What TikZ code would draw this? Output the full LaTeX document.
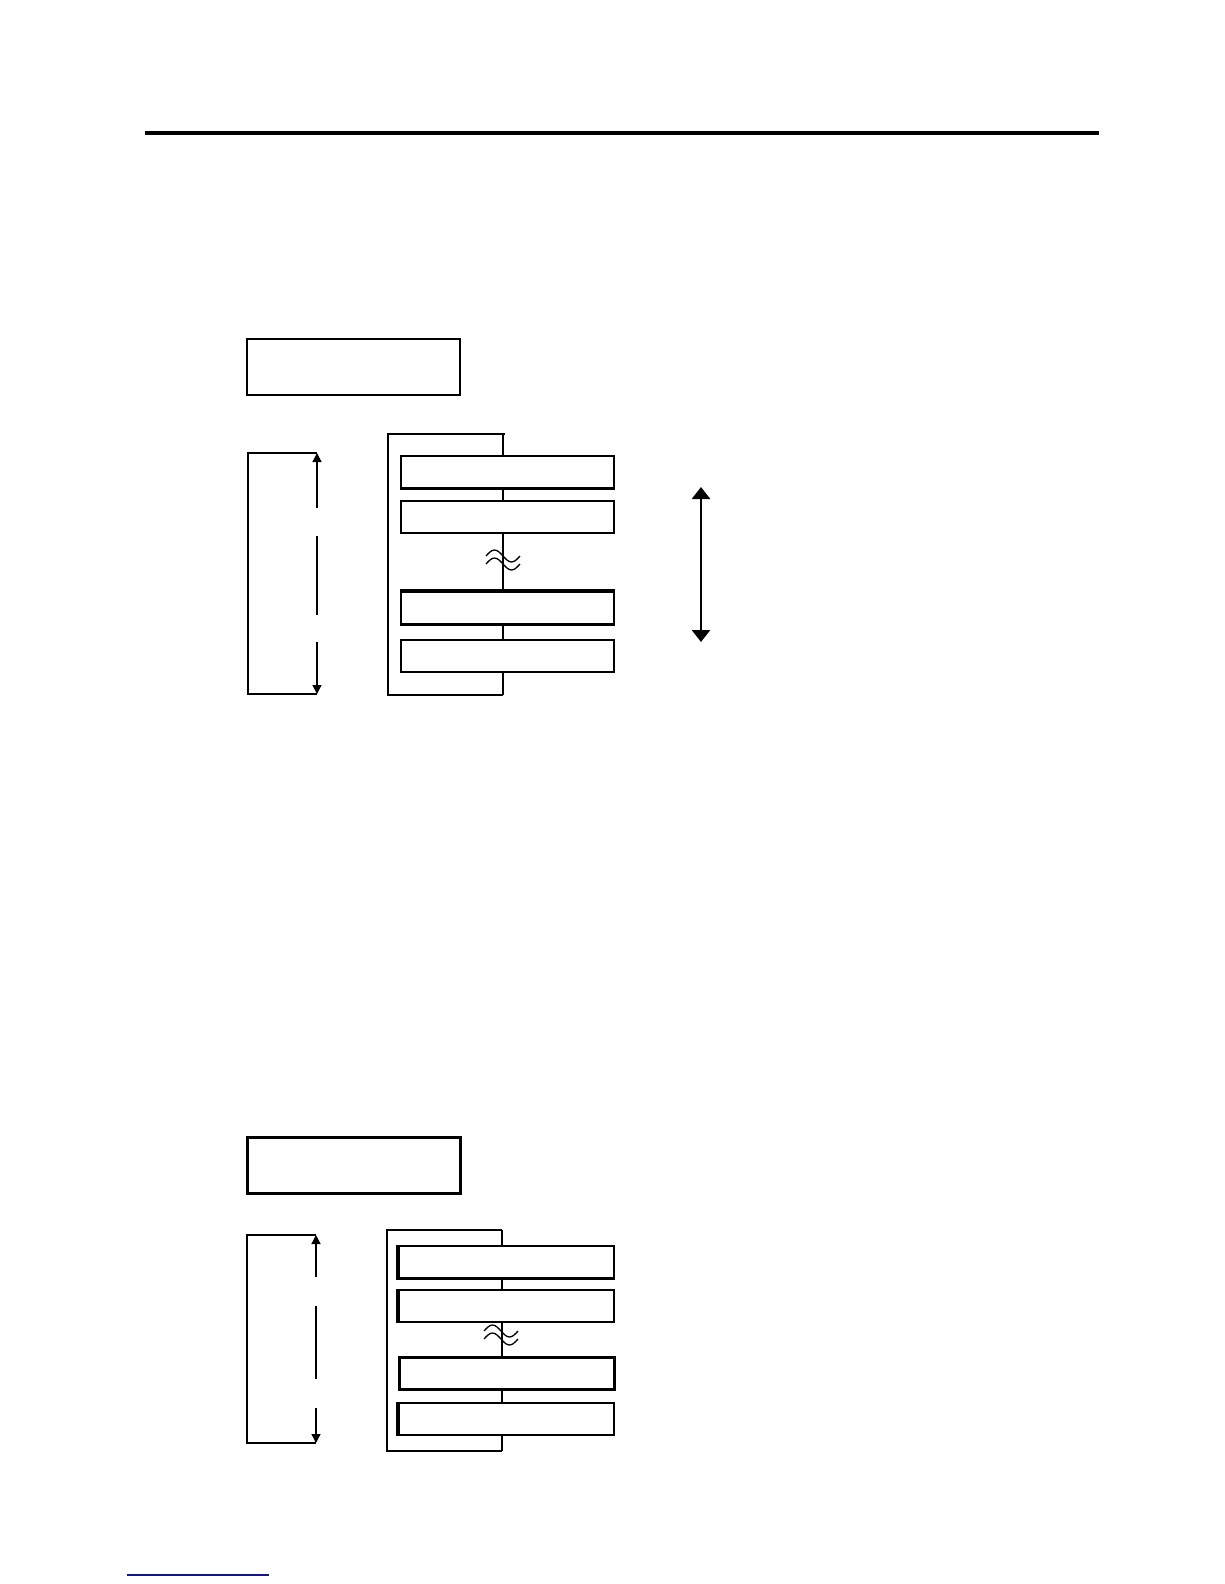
\documentclass[tikz,border=0pt]{standalone}
\usetikzlibrary{arrows.meta}
\begin{document}
\begin{tikzpicture}[x=1pt,y=-1pt,
  thin line/.style={line width=1.6pt},
  heavy edge/.style={line width=3.2pt},
  plainbox/.style={draw,line width=1.6pt,minimum width=213pt,minimum height=32pt,anchor=north west,inner sep=0pt},
  titlebox/.style={draw,line width=1.6pt,minimum width=213pt,minimum height=56pt,anchor=north west,inner sep=0pt},
  dimarrow/.style={line width=1.3pt},
  tipA/.style={-{Triangle[width=9pt,length=9pt]}},
  bigarrow/.style={line width=2.6pt,{Triangle[width=18pt,length=12pt]}-{Triangle[width=18pt,length=12pt]}},
  approxwave/.style={line width=1.3pt}
]
\useasboundingbox (0,0) rectangle (1224,1584);
\fill[white] (0,0) rectangle (1224,1584);

% top rule
\coordinate (ruleL) at (145,133);
\coordinate (ruleR) at (1099,133);
\draw[line width=4.5pt] (ruleL) -- (ruleR);

% ================= Section 1 =================
\node[titlebox] (tA) at (246,338) {};

% left bracket with dimension arrow
\coordinate (lbT) at (317,453);
\coordinate (lbB) at (317,694);
\coordinate (lbTL) at (248,453);
\coordinate (lbBL) at (248,694);
\draw[thin line] (lbT) -- (lbTL) -- (lbBL) -- (lbB);
\coordinate (d1a) at (317,508);
\coordinate (d1b) at (317,536);
\coordinate (d1c) at (317,615);
\coordinate (d1d) at (317,642);
\draw[dimarrow,tipA] (d1a) -- (lbT);
\draw[dimarrow] (d1b) -- (d1c);
\draw[dimarrow,tipA] (d1d) -- (lbB);

% frame
\coordinate (fTR) at (503,434);
\coordinate (fTL) at (388,434);
\coordinate (fBL) at (388,695);
\coordinate (fBR) at (503,695);
\draw[thin line] (505,434) -- (fTL) -- (fBL) -- (fBR);

\node[plainbox] (a1) at (400,455) {};
\node[plainbox] (a2) at (400,500) {};
\node[plainbox] (a3) at (400,591) {};
\node[plainbox] (a4) at (400,639) {};
\draw[heavy edge] (a1.south west) -- (a1.south east);
\draw[heavy edge] (a3.north west) -- (a3.north east);
\draw[heavy edge] (a3.south west) -- (a3.south east);

\draw[thin line] (fTR) -- (fTR |- a1.north);
\draw[thin line] (fTR |- a1.south) -- (fTR |- a2.north);
\draw[thin line] (fTR |- a2.south) -- (fTR |- a3.north);
\draw[thin line] (fTR |- a3.south) -- (fTR |- a4.north);
\draw[thin line] (fTR |- a4.south) -- (fBR);

% approx symbol 1
\coordinate (ap1) at (503,556);
\draw[approxwave] ([shift={(-17,0)}]ap1) sin ([shift={(-8.5,-6)}]ap1) cos ([shift={(0,0)}]ap1) sin ([shift={(8.5,6)}]ap1) cos ([shift={(17,0)}]ap1);
\draw[approxwave] ([shift={(-17,8)}]ap1) sin ([shift={(-8.5,2)}]ap1) cos ([shift={(0,8)}]ap1) sin ([shift={(8.5,14)}]ap1) cos ([shift={(17,8)}]ap1);

% right double arrow
\coordinate (raT) at (701,487);
\coordinate (raB) at (701,642);
\draw[bigarrow] (raT) -- (raB);

% ================= Section 2 =================
\node[titlebox,line width=2.6pt] (tB) at (246,1136) {};

\coordinate (lb2T) at (316,1235);
\coordinate (lb2B) at (316,1443);
\coordinate (lb2TL) at (247,1235);
\coordinate (lb2BL) at (247,1443);
\draw[line width=2.2pt] (lb2T) -- (lb2TL) -- (lb2BL) -- (lb2B);
\coordinate (d2a) at (316,1277);
\coordinate (d2b) at (316,1306);
\coordinate (d2c) at (316,1379);
\coordinate (d2d) at (316,1408);
\draw[dimarrow,tipA] (d2a) -- (lb2T);
\draw[dimarrow] (d2b) -- (d2c);
\draw[dimarrow,tipA] (d2d) -- (lb2B);

\coordinate (gTR) at (502,1230);
\coordinate (gTL) at (387,1230);
\coordinate (gBL) at (387,1451);
\coordinate (gBR) at (502,1451);
\draw[thin line] (gTR) -- (gTL) -- (gBL) -- (gBR);

\node[plainbox,minimum width=215pt] (c1) at (398,1245) {};
\node[plainbox,minimum width=215pt] (c2) at (398,1289) {};
\node[plainbox,minimum width=215pt,line width=2.6pt] (c3) at (398,1356) {};
\node[plainbox,minimum width=215pt] (c4) at (398,1402) {};
\draw[heavy edge] (c1.north west) -- (c1.south west) -- (c1.south east);
\draw[heavy edge] (c2.north west) -- (c2.south west);
\draw[heavy edge] (c4.north west) -- (c4.south west);

\draw[thin line] (gTR) -- (gTR |- c1.north);
\draw[thin line] (gTR |- c1.south) -- (gTR |- c2.north);
\draw[thin line] (gTR |- c2.south) -- (gTR |- c3.north);
\draw[thin line] (gTR |- c3.south) -- (gTR |- c4.north);
\draw[thin line] (gTR |- c4.south) -- (gBR);

\coordinate (ap2) at (501,1331);
\draw[approxwave] ([shift={(-17,0)}]ap2) sin ([shift={(-8.5,-6)}]ap2) cos ([shift={(0,0)}]ap2) sin ([shift={(8.5,6)}]ap2) cos ([shift={(17,0)}]ap2);
\draw[approxwave] ([shift={(-17,8)}]ap2) sin ([shift={(-8.5,2)}]ap2) cos ([shift={(0,8)}]ap2) sin ([shift={(8.5,14)}]ap2) cos ([shift={(17,8)}]ap2);

% bottom link line
\coordinate (lnL) at (127,1575);
\coordinate (lnR) at (269,1575);
\draw[line width=1.4pt,color={rgb,255:red,20;green,20;blue,140}] (lnL) -- (lnR);
\end{tikzpicture}
\end{document}
